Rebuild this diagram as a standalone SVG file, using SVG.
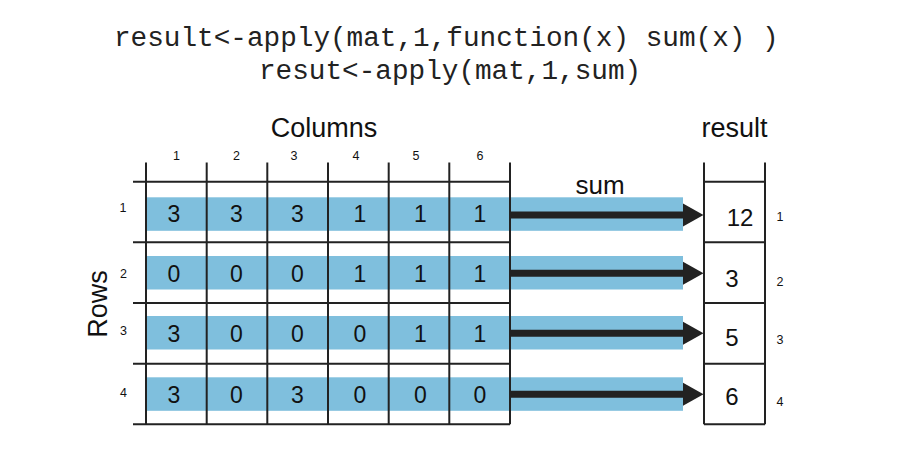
<svg xmlns="http://www.w3.org/2000/svg" width="900" height="450" viewBox="0 0 900 450">
<style>
.code{font-family:"Liberation Mono","DejaVu Sans Mono",monospace;font-size:27.7px;fill:#222}
.lbl{font-family:"Liberation Sans",Arial,sans-serif;fill:#111}
.big{font-size:27px;text-anchor:middle}
.val{font-size:23px;text-anchor:middle}
.res{font-size:24px;text-anchor:middle}
.idx{font-size:12.5px;text-anchor:middle}
.band{fill:#7FBFDD}
.grid{stroke:#222;stroke-width:2;fill:none}
.shaft{stroke:#222;stroke-width:7}
.head{fill:#222}
</style>
<rect width="900" height="450" fill="#fff"/>
<g id="code">
<text class="code" x="114" y="46">result&lt;-apply(mat,1,function(x) sum(x) )</text>
<text class="code" x="259" y="79">resut&lt;-apply(mat,1,sum)</text>
</g>
<g id="titles" class="lbl">
<text class="big" x="324" y="137">Columns</text>
<text class="big" x="734.5" y="137">result</text>
<text class="big" x="600" y="194" style="font-size:26px">sum</text>
<text class="big" transform="translate(106.5,304) rotate(-90)">Rows</text>
</g>
<g id="col-index" class="lbl idx">
<text x="176.5" y="160">1</text>
<text x="236.5" y="160">2</text>
<text x="294" y="160">3</text>
<text x="356" y="160">4</text>
<text x="416" y="160">5</text>
<text x="480" y="160">6</text>
</g>
<g id="bands">
<rect class="band" x="147" y="197.3" width="536" height="33.5"/>
<rect class="band" x="147" y="256" width="536" height="33.5"/>
<rect class="band" x="147" y="316" width="536" height="33.5"/>
<rect class="band" x="147" y="377.3" width="536" height="33.5"/>
</g>
<g id="matrix-grid" class="grid">
<path d="M133 181.7H510M133 242.3H510M133 303H510M133 363.7H510M133 424.3H510"/>
<path d="M146 162.5V424.3M206.7 162.5V424.3M267.3 162.5V424.3M328 162.5V424.3M388.7 162.5V424.3M449.3 162.5V424.3M510 162.5V424.3"/>
</g>
<g id="row1" class="lbl val">
<text class="idx" x="123" y="212">1</text>
<text x="174" y="222">3</text><text x="236.5" y="222">3</text><text x="297.5" y="222">3</text><text x="360" y="222">1</text><text x="420.5" y="222">1</text><text x="480" y="222">1</text>
</g>
<g id="row2" class="lbl val">
<text class="idx" x="123.5" y="278">2</text>
<text x="174" y="282">0</text><text x="236.5" y="282">0</text><text x="297.5" y="282">0</text><text x="360" y="282">1</text><text x="420.5" y="282">1</text><text x="480" y="282">1</text>
</g>
<g id="row3" class="lbl val">
<text class="idx" x="123.5" y="335">3</text>
<text x="174" y="342">3</text><text x="236.5" y="342">0</text><text x="297.5" y="342">0</text><text x="360" y="342">0</text><text x="420.5" y="342">1</text><text x="480" y="342">1</text>
</g>
<g id="row4" class="lbl val">
<text class="idx" x="123.5" y="397">4</text>
<text x="174" y="403">3</text><text x="236.5" y="403">0</text><text x="297.5" y="403">3</text><text x="360" y="403">0</text><text x="420.5" y="403">0</text><text x="480" y="403">0</text>
</g>
<g id="connectors">
<line class="shaft" x1="511" y1="215" x2="684" y2="215"/><polygon class="head" points="683,203.5 703.5,215 683,226.5"/>
<line class="shaft" x1="511" y1="273.3" x2="684" y2="273.3"/><polygon class="head" points="683,261.8 703.5,273.3 683,284.8"/>
<line class="shaft" x1="511" y1="333.3" x2="684" y2="333.3"/><polygon class="head" points="683,321.8 703.5,333.3 683,344.8"/>
<line class="shaft" x1="511" y1="394.3" x2="684" y2="394.3"/><polygon class="head" points="683,382.8 703.5,394.3 683,405.8"/>
</g>
<g id="result-grid" class="grid">
<path d="M704 162.5V424.3M765 162.5V424.3"/>
<path d="M704 181.7H765M704 242.3H765M704 303H765M704 363.7H765M704 424.3H765"/>
</g>
<g id="res1" class="lbl res"><text x="740" y="226">12</text><text class="idx" x="780" y="221">1</text></g>
<g id="res2" class="lbl res"><text x="732" y="287">3</text><text class="idx" x="780" y="286">2</text></g>
<g id="res3" class="lbl res"><text x="732" y="345.5">5</text><text class="idx" x="780" y="343.5">3</text></g>
<g id="res4" class="lbl res"><text x="732" y="405">6</text><text class="idx" x="780" y="405.5">4</text></g>
</svg>
